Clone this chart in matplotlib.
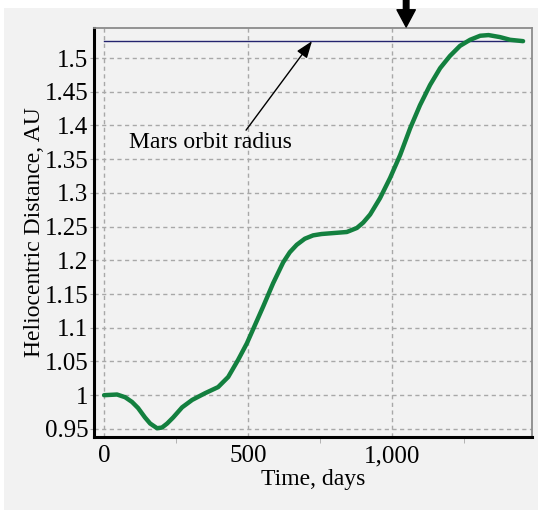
import matplotlib
matplotlib.use("Agg")
import matplotlib.pyplot as plt
from matplotlib.patches import Rectangle
from matplotlib.ticker import FixedLocator, FuncFormatter

# trajectory (days, AU)
days = [0, 45, 73, 97, 118, 142, 160, 184, 201, 219, 240, 271, 306, 351,
        396, 431, 465, 496, 524, 552, 587, 622, 645, 669, 697, 726, 755, 784,
        843, 878, 900, 924, 958, 993, 1028, 1063, 1097, 1132, 1167, 1201,
        1236, 1271, 1306, 1335, 1375, 1410, 1455]
dist = [1.0, 1.001, 0.997, 0.990, 0.981, 0.967, 0.958, 0.951, 0.952, 0.958,
        0.967, 0.982, 0.993, 1.003, 1.012, 1.027, 1.052, 1.077, 1.104, 1.131,
        1.166, 1.197, 1.212, 1.223, 1.232, 1.237, 1.239, 1.240, 1.242, 1.248,
        1.256, 1.268, 1.292, 1.322, 1.356, 1.396, 1.430, 1.460, 1.485, 1.503,
        1.518, 1.527, 1.533, 1.534, 1.531, 1.527, 1.525]

mars_radius = 1.525
mars_span = [0, 1455]
arrival_day = 1049

x_ticks = [0, 500, 1000]
x_minor = [250, 750, 1250]
y_ticks = [0.95, 1.0, 1.05, 1.1, 1.15, 1.2, 1.25, 1.3, 1.35, 1.4, 1.45, 1.5]

plt.rcParams["font.family"] = ["Liberation Serif", "DejaVu Serif"]
plt.rcParams["font.size"] = 17

fig = plt.figure(figsize=(5.38, 5.12), dpi=100)
fig.patch.set_facecolor("white")
fig.patches.append(Rectangle((4 / 538, 2 / 512), 534 / 538, 502 / 512,
                             transform=fig.transFigure, facecolor="#f2f2f2",
                             edgecolor="none", zorder=-10))

ax = fig.add_axes([94 / 538, 75 / 512, 438 / 538, 409 / 512])
ax.set_facecolor("#f2f2f2")

ax.plot(mars_span, [mars_radius, mars_radius], color="#24246e", lw=1.0, zorder=2)
ax.plot(days, dist, color="#13803f", lw=3.2, solid_capstyle="round",
        solid_joinstyle="round", zorder=3)

ax.set_xlim(-35, 1486)
ax.set_ylim(0.938, 1.5445)

ax.xaxis.set_major_locator(FixedLocator(x_ticks))
ax.xaxis.set_minor_locator(FixedLocator(x_minor))
ax.yaxis.set_major_locator(FixedLocator(y_ticks))
ax.xaxis.set_major_formatter(FuncFormatter(lambda v, p: f"{int(v):,}"))
ax.yaxis.set_major_formatter(FuncFormatter(lambda v, p: f"{v:g}"))

ax.grid(True, which="major", color="#a8a8a8", linestyle=(0, (3, 2.5)), lw=1.0)
ax.tick_params(axis="y", which="major", length=3, color="#a8a8a8", pad=1,
               labelsize=18)
ax.tick_params(axis="x", which="major", length=0, pad=6, labelsize=18)
ax.tick_params(axis="x", which="minor", length=4, color="#a8a8a8")

for side in ["left", "bottom"]:
    ax.spines[side].set_linewidth(2.2)
    ax.spines[side].set_color("black")
for side in ["top", "right"]:
    ax.spines[side].set_linewidth(1.3)
    ax.spines[side].set_color("#8c8c8c")

ax.set_xlabel("Time, days", labelpad=1)
ax.set_ylabel("Heliocentric Distance, AU", labelpad=0)

ax.text(87, 1.374, "Mars orbit radius", ha="left", va="center")
ax.annotate("", xy=(722, mars_radius), xytext=(493, 1.393),
            arrowprops=dict(arrowstyle="-|>,head_length=0.6,head_width=0.22",
                            color="black", lw=1.0, shrinkA=0, shrinkB=0))

ax.annotate("", xy=(arrival_day, 1.0025), xycoords=("data", "axes fraction"),
            xytext=(arrival_day, 1.075), textcoords=("data", "axes fraction"),
            arrowprops=dict(arrowstyle="simple,head_length=0.62,head_width=0.66,tail_width=0.2",
                            color="black", mutation_scale=20, shrinkA=0, shrinkB=0),
            annotation_clip=False)

fig.savefig("out.png", dpi=100)
